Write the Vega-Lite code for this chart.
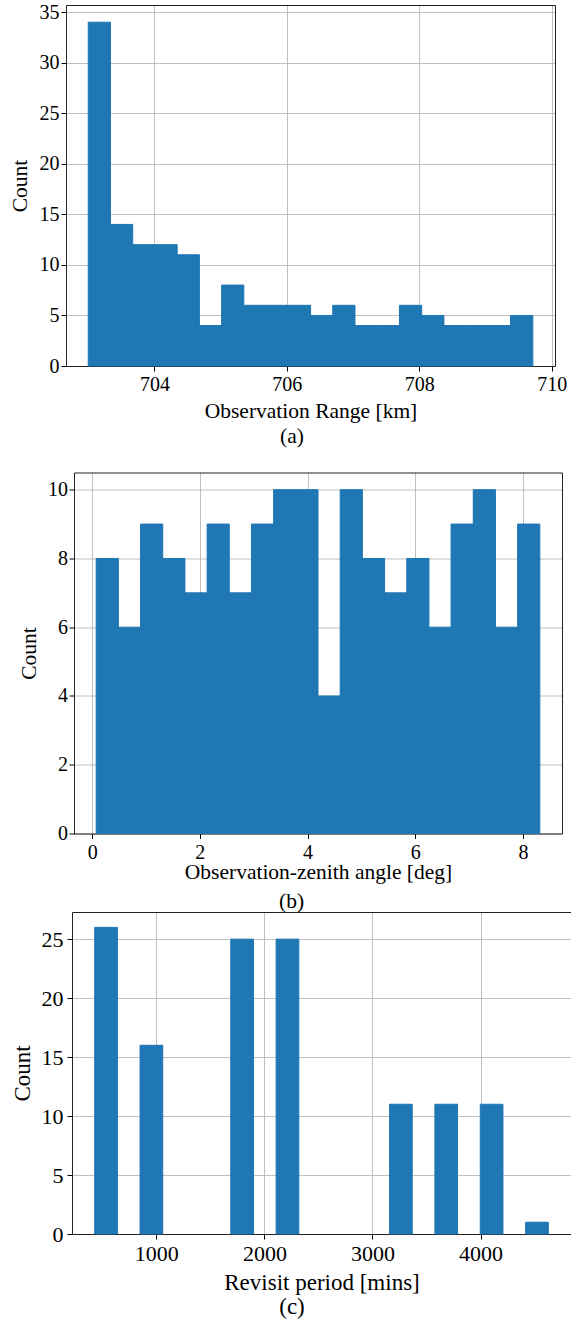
{
  "$schema": "https://vega.github.io/schema/vega-lite/v6.json",
  "padding": {"left": 9, "top": 2, "right": 0, "bottom": 0},
  "background": "white",
  "spacing": -0.5,
  "align": "none",
  "config": {
    "font": "Liberation Serif",
    "view": {"stroke": null},
    "axis": {
      "domain": true,
      "domainColor": "#222222",
      "domainWidth": 1,
      "grid": true,
      "gridColor": "#b0b0b0",
      "gridWidth": 0.8,
      "tickColor": "#000000",
      "tickSize": 5,
      "tickWidth": 1,
      "labelColor": "#000000",
      "titleColor": "#000000",
      "labelFont": "Liberation Serif",
      "titleFont": "Liberation Serif",
      "titleFontWeight": "normal",
      "zindex": 1
    },
    "title": {"font": "Liberation Serif", "fontWeight": "normal", "color": "#000000"}
  },
  "datasets": {
    "range": [
      {"start": 703.000, "end": 703.336, "count": 34},
      {"start": 703.336, "end": 703.672, "count": 14},
      {"start": 703.672, "end": 704.007, "count": 12},
      {"start": 704.007, "end": 704.343, "count": 12},
      {"start": 704.343, "end": 704.679, "count": 11},
      {"start": 704.679, "end": 705.015, "count": 4},
      {"start": 705.015, "end": 705.350, "count": 8},
      {"start": 705.350, "end": 705.686, "count": 6},
      {"start": 705.686, "end": 706.022, "count": 6},
      {"start": 706.022, "end": 706.358, "count": 6},
      {"start": 706.358, "end": 706.693, "count": 5},
      {"start": 706.693, "end": 707.029, "count": 6},
      {"start": 707.029, "end": 707.365, "count": 4},
      {"start": 707.365, "end": 707.701, "count": 4},
      {"start": 707.701, "end": 708.036, "count": 6},
      {"start": 708.036, "end": 708.372, "count": 5},
      {"start": 708.372, "end": 708.708, "count": 4},
      {"start": 708.708, "end": 709.044, "count": 4},
      {"start": 709.044, "end": 709.379, "count": 4},
      {"start": 709.379, "end": 709.715, "count": 5}
    ],
    "zenith": [
      {"start": 0.075, "end": 0.487, "count": 8},
      {"start": 0.487, "end": 0.899, "count": 6},
      {"start": 0.899, "end": 1.311, "count": 9},
      {"start": 1.311, "end": 1.723, "count": 8},
      {"start": 1.723, "end": 2.135, "count": 7},
      {"start": 2.135, "end": 2.546, "count": 9},
      {"start": 2.546, "end": 2.958, "count": 7},
      {"start": 2.958, "end": 3.370, "count": 9},
      {"start": 3.370, "end": 3.782, "count": 10},
      {"start": 3.782, "end": 4.194, "count": 10},
      {"start": 4.194, "end": 4.606, "count": 4},
      {"start": 4.606, "end": 5.018, "count": 10},
      {"start": 5.018, "end": 5.430, "count": 8},
      {"start": 5.430, "end": 5.842, "count": 7},
      {"start": 5.842, "end": 6.254, "count": 8},
      {"start": 6.254, "end": 6.665, "count": 6},
      {"start": 6.665, "end": 7.077, "count": 9},
      {"start": 7.077, "end": 7.489, "count": 10},
      {"start": 7.489, "end": 7.901, "count": 6},
      {"start": 7.901, "end": 8.313, "count": 9}
    ],
    "revisit": [
      {"start": 430.0, "end": 640.0, "count": 26},
      {"start": 849.7, "end": 1059.6, "count": 16},
      {"start": 1689.1, "end": 1899.0, "count": 25},
      {"start": 2108.8, "end": 2318.6, "count": 25},
      {"start": 3158.1, "end": 3368.0, "count": 11},
      {"start": 3577.8, "end": 3787.6, "count": 11},
      {"start": 3997.5, "end": 4207.4, "count": 11},
      {"start": 4417.2, "end": 4627.0, "count": 1}
    ]
  },
  "vconcat": [
    {
      "width": 489,
      "height": 361,
      "data": {"name": "range"},
      "title": {"text": ["(a)", " "], "orient": "bottom", "anchor": "middle", "frame": "group", "dx": -18.5, "offset": 21, "baseline": "alphabetic", "fontSize": 21.5, "lineHeight": 26},
      "resolve": {"axis": {"x": "independent", "y": "independent"}},
      "layer": [
        {
          "mark": {"type": "bar", "color": "#1f77b4", "stroke": "#1f77b4", "strokeWidth": 1},
          "encoding": {
            "x": {
              "field": "start", "type": "quantitative",
              "scale": {"domain": [702.664, 710.05], "range": [0, 489], "nice": false, "zero": false},
              "axis": {"values": [704, 706, 708, 710], "format": "d", "labelFontSize": 20, "labelPadding": 3.5,
                       "title": "Observation Range [km]", "titleFontSize": 21.5, "titleBaseline": "alphabetic", "titleY": 51}
            },
            "x2": {"field": "end"},
            "y": {
              "field": "count", "type": "quantitative",
              "scale": {"domain": [0, 35.7], "nice": false},
              "axis": {"values": [0, 5, 10, 15, 20, 25, 30, 35], "labelFontSize": 20, "labelPadding": 2,
                       "title": "Count", "titleFontSize": 21.5, "titleAngle": 270, "titleAlign": "center",
                       "titleBaseline": "alphabetic", "titleX": -40, "titleY": 180.5}
            },
            "y2": {"datum": 0}
          }
        },
        {
          "mark": {"type": "bar", "opacity": 0},
          "encoding": {
            "x": {"field": "start", "type": "quantitative",
                  "axis": {"orient": "top", "ticks": false, "labels": false, "grid": false, "title": null}},
            "x2": {"field": "end"},
            "y": {"field": "count", "type": "quantitative",
                  "axis": {"orient": "right", "ticks": false, "labels": false, "grid": false, "title": null}},
            "y2": {"datum": 0}
          }
        }
      ]
    },
    {
      "width": 496,
      "height": 361,
      "data": {"name": "zenith"},
      "title": {"text": "(b)", "orient": "bottom", "anchor": "middle", "frame": "group", "dx": -22.5, "offset": 25, "baseline": "alphabetic", "fontSize": 21.5},
      "resolve": {"axis": {"x": "independent", "y": "independent"}},
      "layer": [
        {
          "mark": {"type": "bar", "color": "#1f77b4", "stroke": "#1f77b4", "strokeWidth": 1},
          "encoding": {
            "x": {
              "field": "start", "type": "quantitative",
              "scale": {"domain": [-0.337, 8.725], "range": [8, 496], "nice": false, "zero": false},
              "axis": {"values": [0, 2, 4, 6, 8], "format": "d", "labelFontSize": 20, "labelPadding": 3.5,
                       "title": "Observation-zenith angle [deg]", "titleFontSize": 21.5, "titleBaseline": "alphabetic", "titleY": 45}
            },
            "x2": {"field": "end"},
            "y": {
              "field": "count", "type": "quantitative",
              "scale": {"domain": [0, 10.5], "nice": false},
              "axis": {"values": [0, 2, 4, 6, 8, 10], "offset": -8, "labelFontSize": 20, "labelPadding": 1.5,
                       "title": "Count", "titleFontSize": 21.5, "titleAngle": 270, "titleAlign": "center",
                       "titleBaseline": "alphabetic", "titleX": -39, "titleY": 180.5}
            },
            "y2": {"datum": 0}
          }
        },
        {
          "mark": {"type": "bar", "opacity": 0},
          "encoding": {
            "x": {"field": "start", "type": "quantitative",
                  "axis": {"orient": "top", "ticks": false, "labels": false, "grid": false, "title": null}},
            "x2": {"field": "end"},
            "y": {"field": "count", "type": "quantitative",
                  "axis": {"orient": "right", "ticks": false, "labels": false, "grid": false, "title": null}},
            "y2": {"datum": 0}
          }
        }
      ]
    },
    {
      "width": 505,
      "height": 322,
      "data": {"name": "revisit"},
      "title": {"text": "(c)", "orient": "bottom", "anchor": "middle", "frame": "group", "dx": -26.5, "offset": 20, "baseline": "alphabetic", "fontSize": 23},
      "resolve": {"axis": {"x": "independent", "y": "independent"}},
      "layer": [
        {
          "mark": {"type": "bar", "color": "#1f77b4", "stroke": "#1f77b4", "strokeWidth": 1},
          "encoding": {
            "x": {
              "field": "start", "type": "quantitative",
              "scale": {"domain": [220, 4837], "range": [6, 505], "nice": false, "zero": false},
              "axis": {"values": [1000, 2000, 3000, 4000], "format": "d", "labelFontSize": 22, "labelPadding": 4,
                       "title": "Revisit period [mins]", "titleFontSize": 23, "titleBaseline": "alphabetic", "titleY": 55}
            },
            "x2": {"field": "end"},
            "y": {
              "field": "count", "type": "quantitative",
              "scale": {"domain": [0, 27.3], "nice": false},
              "axis": {"values": [0, 5, 10, 15, 20, 25], "offset": -6, "labelFontSize": 22, "labelPadding": 4,
                       "title": "Count", "titleFontSize": 23, "titleAngle": 270, "titleAlign": "center",
                       "titleBaseline": "alphabetic", "titleX": -43, "titleY": 161}
            },
            "y2": {"datum": 0}
          }
        },
        {
          "mark": {"type": "bar", "opacity": 0},
          "encoding": {
            "x": {"field": "start", "type": "quantitative",
                  "axis": {"orient": "top", "ticks": false, "labels": false, "grid": false, "title": null}},
            "x2": {"field": "end"},
            "y": {"field": "count", "type": "quantitative",
                  "axis": {"orient": "right", "ticks": false, "labels": false, "grid": false, "title": null}},
            "y2": {"datum": 0}
          }
        }
      ]
    }
  ]
}
